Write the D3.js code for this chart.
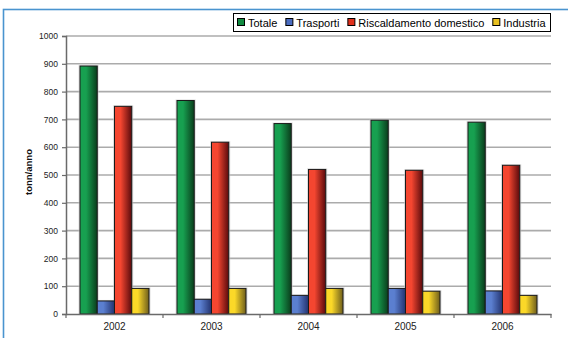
<!DOCTYPE html>
<html>
<head>
<meta charset="utf-8">
<script src="https://cdn.jsdelivr.net/npm/d3@7"></script>
<style>
  body { margin: 0; background: #fff; }
  svg { display: block; font-family: "Liberation Sans", Arial, sans-serif; }
</style>
</head>
<body>
<div id="chart"></div>
<script>
var years = ["2002", "2003", "2004", "2005", "2006"];
var seriesNames = ["Totale", "Trasporti", "Riscaldamento domestico", "Industria"];
var totale = [892, 768, 685, 697, 690];
var trasporti = [47, 53, 67, 92, 83];
var riscaldamento = [747, 618, 520, 517, 535];
var industria = [92, 92, 92, 82, 67];
var yTicks = [0, 100, 200, 300, 400, 500, 600, 700, 800, 900, 1000];

// colori: chiaro a sinistra, scuro a destra
var colors = [
  { light: "#17a050", dark: "#0a3d1c", swatch: "#118a40" },
  { light: "#5b7fd0", dark: "#23336f", swatch: "#4a6cc0" },
  { light: "#f44630", dark: "#5a0a0c", swatch: "#e0301c" },
  { light: "#fbd828", dark: "#6e5e1c", swatch: "#e8c020" }
];

var width = 568, height = 338;
var margin = { top: 36, right: 17, bottom: 24, left: 66 };
var plotW = width - margin.left - margin.right;
var plotH = height - margin.top - margin.bottom;

var data = years.map(function (y, i) {
  return { year: y, values: [totale[i], trasporti[i], riscaldamento[i], industria[i]] };
});

var svg = d3.select("#chart").append("svg")
  .attr("width", width)
  .attr("height", height);

var defs = svg.append("defs");
colors.forEach(function (c, i) {
  var g = defs.append("linearGradient")
    .attr("id", "grad" + i)
    .attr("x1", "0%").attr("x2", "100%").attr("y1", "0%").attr("y2", "0%");
  g.append("stop").attr("offset", "0%").attr("stop-color", c.light);
  g.append("stop").attr("offset", "35%").attr("stop-color", c.light);
  g.append("stop").attr("offset", "100%").attr("stop-color", c.dark);
});

// cornice esterna
svg.append("rect")
  .attr("x", 3.5).attr("y", 9.5)
  .attr("width", 600).attr("height", 400)
  .attr("fill", "none")
  .attr("stroke", "#4a94cf")
  .attr("stroke-width", 1.6);

var g = svg.append("g").attr("transform", "translate(" + margin.left + "," + margin.top + ")");

var x0 = d3.scaleBand().domain(years).range([0, plotW]).paddingInner(0).paddingOuter(0);
var x1 = d3.scaleBand().domain(d3.range(seriesNames.length)).range([14, x0.bandwidth() - 14]).padding(0);
var y = d3.scaleLinear().domain([0, 1000]).range([plotH, 0]);

// griglia
g.selectAll("line.grid")
  .data(yTicks.filter(function (d) { return d > 0; }))
  .enter().append("line")
  .attr("class", "grid")
  .attr("x1", 0).attr("x2", plotW)
  .attr("y1", function (d) { return y(d); })
  .attr("y2", function (d) { return y(d); })
  .attr("stroke", "#ababab")
  .attr("stroke-width", 1.6);

// barre
var groups = g.selectAll("g.year")
  .data(data)
  .enter().append("g")
  .attr("class", "year")
  .attr("transform", function (d) { return "translate(" + x0(d.year) + ",0)"; });

// ombra
groups.selectAll("rect.shadow")
  .data(function (d) { return d.values.map(function (v, i) { return { v: v, i: i }; }); })
  .enter().append("rect")
  .attr("class", "shadow")
  .attr("x", function (d) { return x1(d.i) - 1.5; })
  .attr("y", function (d) { return y(d.v) - 1; })
  .attr("width", x1.bandwidth() + 3)
  .attr("height", function (d) { return plotH - y(d.v) + 1; })
  .attr("fill", "#c8c8c8")
  .attr("opacity", 0.6);

groups.selectAll("rect.bar")
  .data(function (d) { return d.values.map(function (v, i) { return { v: v, i: i }; }); })
  .enter().append("rect")
  .attr("class", "bar")
  .attr("x", function (d) { return x1(d.i); })
  .attr("y", function (d) { return y(d.v); })
  .attr("width", x1.bandwidth())
  .attr("height", function (d) { return plotH - y(d.v); })
  .attr("fill", function (d) { return "url(#grad" + d.i + ")"; })
  .attr("stroke", "#1a1a1a")
  .attr("stroke-width", 1);

// asse y
var yAxis = d3.axisLeft(y).tickValues(yTicks).tickFormat(d3.format("d")).tickSize(4).tickPadding(4);
var yg = g.append("g").call(yAxis);
yg.select(".domain").attr("stroke", "#6a6a6a").attr("stroke-width", 1.5);
yg.selectAll(".tick line").attr("stroke", "#6a6a6a").attr("stroke-width", 1.2);
yg.selectAll(".tick text").attr("font-size", "8.5px").attr("fill", "#222")
  .attr("font-family", "Liberation Sans, Arial, sans-serif");

// asse x
var xAxis = d3.axisBottom(x0).tickSize(0).tickPadding(9);
var xg = g.append("g").attr("transform", "translate(0," + plotH + ")").call(xAxis);
xg.select(".domain").attr("stroke", "#6a6a6a").attr("stroke-width", 1.5);
xg.selectAll(".tick text").attr("font-size", "10px").attr("fill", "#222")
  .attr("font-family", "Liberation Sans, Arial, sans-serif");
// tacche tra le categorie
xg.selectAll("line.sep")
  .data(years.concat(["end"]))
  .enter().append("line")
  .attr("class", "sep")
  .attr("x1", function (d, i) { return i * x0.bandwidth(); })
  .attr("x2", function (d, i) { return i * x0.bandwidth(); })
  .attr("y1", 0).attr("y2", 4)
  .attr("stroke", "#6a6a6a").attr("stroke-width", 1.2);

// etichetta asse y
svg.append("text")
  .attr("transform", "translate(32," + (margin.top + plotH / 2 - 3) + ") rotate(-90)")
  .attr("text-anchor", "middle")
  .attr("font-size", "9.5px")
  .attr("font-weight", "bold")
  .attr("fill", "#111")
  .text("tonn/anno");

// legenda
var legend = svg.append("g").attr("transform", "translate(233,13)");
var legendBox = legend.append("rect")
  .attr("x", 0.5).attr("y", 0.5)
  .attr("height", 18)
  .attr("fill", "#fff")
  .attr("stroke", "#000")
  .attr("stroke-width", 1);

var lx = 4;
seriesNames.forEach(function (name, i) {
  var item = legend.append("g").attr("transform", "translate(" + lx + ",0)");
  item.append("rect")
    .attr("x", 0.5).attr("y", 5.5)
    .attr("width", 7).attr("height", 7)
    .attr("fill", colors[i].swatch)
    .attr("stroke", "#000").attr("stroke-width", 1);
  var t = item.append("text")
    .attr("x", 11).attr("y", 13.5)
    .attr("font-size", "11px")
    .attr("fill", "#000")
    .text(name);
  lx += 11 + t.node().getComputedTextLength() + 8;
});
legendBox.attr("width", 551 - 233 - 1);
</script>
</body>
</html>
